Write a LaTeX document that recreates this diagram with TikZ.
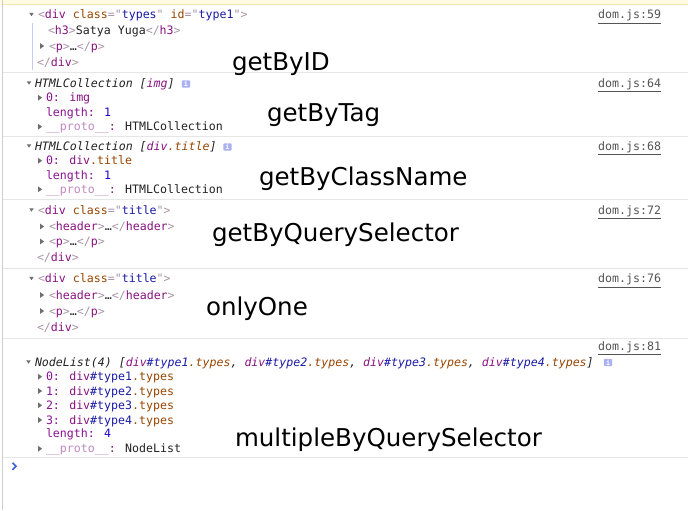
\documentclass[tikz,border=0pt]{standalone}
\usepackage{fontspec}
\usetikzlibrary{positioning}
\newfontfamily\consolefont{DejaVu Sans Mono}[ItalicFont={DejaVu Sans Mono Oblique},BoldFont={DejaVu Sans Mono Bold}]
\newfontfamily\labelfont{DejaVu Sans}
\tikzset{
	dn/.pic={\fill[triColor] (-2.3,-1.7) -- (2.3,-1.7) -- (0,1.7) -- cycle;},
	rt/.pic={\fill[triColor] (-1.8,-2.8) -- (-1.8,2.8) -- (2.1,0) -- cycle;}
}
\definecolor{tagColor}{HTML}{881280}
\definecolor{brColor}{HTML}{A894A6}
\definecolor{atColor}{HTML}{994500}
\definecolor{valColor}{HTML}{1A1AA6}
\definecolor{propColor}{HTML}{881391}
\definecolor{protoColor}{HTML}{C08AC0}
\definecolor{numColor}{HTML}{1C00CF}
\definecolor{txtColor}{HTML}{222222}
\definecolor{linkColor}{HTML}{545454}
\definecolor{triColor}{HTML}{6E6E6E}
\definecolor{sepColor}{HTML}{E6E6E6}
\definecolor{barColor}{HTML}{C5CAF2}
\definecolor{badgeColor}{HTML}{A9B1F2}
\definecolor{promptColor}{HTML}{3A61D8}
\definecolor{warnColor}{HTML}{FFFBE3}
\definecolor{warnLine}{HTML}{F2E6B0}
\newcommand{\otag}[1]{\textcolor{brColor}{<}\textcolor{tagColor}{#1}\textcolor{brColor}{>}}
\newcommand{\ctag}[1]{\textcolor{brColor}{</}\textcolor{tagColor}{#1}\textcolor{brColor}{>}}
\newcommand{\atr}[2]{\textcolor{atColor}{#1}\textcolor{brColor}{="}\textcolor{valColor}{#2}\textcolor{brColor}{"}}
\newcommand{\prp}[1]{\textcolor{propColor}{#1:}}
\newcommand{\num}[1]{\textcolor{numColor}{#1}}
\newcommand{\elm}[3]{\textcolor{tagColor}{#1}\textcolor{valColor}{#2}\textcolor{atColor}{#3}}
\newcommand{\proto}{\textcolor{protoColor}{\_\_proto\_\_}\textcolor{propColor}{:}}
\begin{document}
\begin{tikzpicture}[x=0.75pt,y=-0.75pt,
	con/.style={anchor=base west,inner sep=0,outer sep=0,text=txtColor,font=\consolefont\fontsize{8.7}{10}\selectfont},
	src/.style={anchor=base east,inner sep=0,outer sep=0,text=linkColor,font=\consolefont\fontsize{8.7}{10}\selectfont},
	lab/.style={anchor=base west,inner sep=0,outer sep=0,font=\labelfont\fontsize{18.4}{22}\selectfont},
	badge/.style={fill=badgeColor,text=white,rounded corners=0.8pt,minimum width=6.3pt,minimum height=5.6pt,inner sep=0,font=\consolefont\bfseries\fontsize{5}{5}\selectfont},
	sep/.style={draw=sepColor,line width=0.75pt}]
	\useasboundingbox[fill=white] (0,0) rectangle (688,510);
	\fill[warnColor] (0,0) rectangle (688,5);
	\draw[warnLine,line width=0.75pt] (3,5) -- (688,5);
	\draw[black!20,line width=0.75pt] (2.7,0) -- (2.7,510);
	\foreach \y in {72.7,136,199.3,268.3,338.3,457.3}
		\draw[sep] (3,\y) -- (688,\y);
	% getElementById
	\node[con] (id_1) at (38,19) {\textcolor{brColor}{<}\textcolor{tagColor}{div} \atr{class}{types} \atr{id}{type1}\textcolor{brColor}{>}};
	\node[con] (id_2) at (48,34.7) {\otag{h3}Satya Yuga\ctag{h3}};
	\node[con] (id_3) at (49,50.5) {\otag{p}…\ctag{p}};
	\node[con] (id_4) at (37,66.3) {\ctag{div}};
	\pic at (31.5,14.5) {dn};
	\pic at (42,46) {rt};
	\draw[barColor,line width=0.75pt] (32,23) -- (32,70);
	\node[src] (id_src) at (661,19) {\underline{dom.js:59}};
	\node[lab] (id_lab) at (232,70.7) {getByID};
	% getElementsByTagName
	\node[con] (tag_1) at (35,87.3) {\itshape HTMLCollection [\textcolor{tagColor}{img}]};
	\node[badge] (tag_b) at (186,84) {i};
	\node[con] (tag_2) at (46,101.7) {\prp{0} \textcolor{tagColor}{img}};
	\node[con] (tag_3) at (46,116) {\prp{length} \num{1}};
	\node[con] (tag_4) at (46,130.7) {\proto{} HTMLCollection};
	\pic at (29,83) {dn};
	\pic at (40,97.7) {rt};
	\pic at (40,126.7) {rt};
	\node[src] (tag_src) at (661,87.3) {\underline{dom.js:64}};
	\node[lab] (tag_lab) at (267,121) {getByTag};
	% getElementsByClassName
	\node[con] (cls_1) at (35,150) {\itshape HTMLCollection [\textcolor{tagColor}{div}\textcolor{atColor}{.title}]};
	\node[badge] (cls_b) at (227.5,147) {i};
	\node[con] (cls_2) at (46,164.7) {\prp{0} \textcolor{tagColor}{div}\textcolor{atColor}{.title}};
	\node[con] (cls_3) at (46,179) {\prp{length} \num{1}};
	\node[con] (cls_4) at (46,193.3) {\proto{} HTMLCollection};
	\pic at (29,146) {dn};
	\pic at (40,160.7) {rt};
	\pic at (40,189.3) {rt};
	\node[src] (cls_src) at (661,150) {\underline{dom.js:68}};
	\node[lab] (cls_lab) at (259,185) {getByClassName};
	% querySelector
	\node[con] (qs_1) at (38,214.3) {\textcolor{brColor}{<}\textcolor{tagColor}{div} \atr{class}{title}\textcolor{brColor}{>}};
	\node[con] (qs_2) at (49,230.7) {\otag{header}…\ctag{header}};
	\node[con] (qs_3) at (49,245.7) {\otag{p}…\ctag{p}};
	\node[con] (qs_4) at (37,261.7) {\ctag{div}};
	\pic at (31.5,210) {dn};
	\pic at (42,226.5) {rt};
	\pic at (42,241.5) {rt};
	\node[src] (qs_src) at (661,214.3) {\underline{dom.js:72}};
	\node[lab] (qs_lab) at (212,241.7) {getByQuerySelector};
	% onlyOne
	\node[con] (one_1) at (38,282.7) {\textcolor{brColor}{<}\textcolor{tagColor}{div} \atr{class}{title}\textcolor{brColor}{>}};
	\node[con] (one_2) at (49,299) {\otag{header}…\ctag{header}};
	\node[con] (one_3) at (49,315) {\otag{p}…\ctag{p}};
	\node[con] (one_4) at (37,331) {\ctag{div}};
	\pic at (31.5,278.5) {dn};
	\pic at (42,295) {rt};
	\pic at (42,311) {rt};
	\node[src] (one_src) at (661,282.7) {\underline{dom.js:76}};
	\node[lab] (one_lab) at (206,315) {onlyOne};
	% querySelectorAll
	\node[src] (mul_src) at (661,350.3) {\underline{dom.js:81}};
	\node[con] (mul_1) at (35,366) {\itshape NodeList(4) [\elm{div}{\#type1}{.types}, \elm{div}{\#type2}{.types}, \elm{div}{\#type3}{.types}, \elm{div}{\#type4}{.types}]};
	\node[badge] (mul_b) at (608,362.5) {i};
	\node[con] (mul_2) at (46,380.7) {\prp{0} \elm{div}{\#type1}{.types}};
	\node[con] (mul_3) at (46,395) {\prp{1} \elm{div}{\#type2}{.types}};
	\node[con] (mul_4) at (46,409.3) {\prp{2} \elm{div}{\#type3}{.types}};
	\node[con] (mul_5) at (46,424) {\prp{3} \elm{div}{\#type4}{.types}};
	\node[con] (mul_6) at (46,437.7) {\prp{length} \num{4}};
	\node[con] (mul_7) at (46,452.7) {\proto{} NodeList};
	\pic at (28.5,362) {dn};
	\foreach \y in {376.7,391,405.3,420,448.7}
		\pic at (40,\y) {rt};
	\node[lab] (mul_lab) at (235,446.7) {multipleByQuerySelector};
	\draw[promptColor,line width=1.2pt] (12.5,462.8) -- (16,466.3) -- (12.5,469.8);
\end{tikzpicture}
\end{document}
